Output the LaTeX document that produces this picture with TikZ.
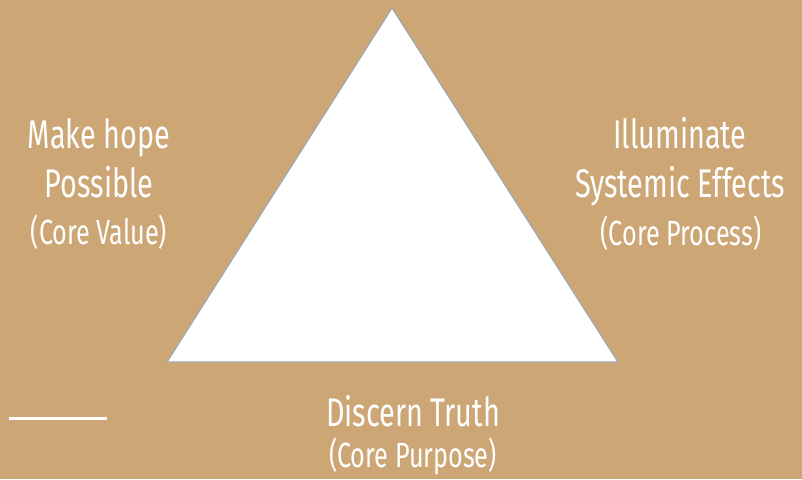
\documentclass[tikz,border=0pt]{standalone}
\usepackage{fontspec}
\setmainfont{Fira Sans}[FakeStretch=0.72]
\definecolor{bg}{RGB}{205,166,118}
\definecolor{edge}{RGB}{160,168,176}
\tikzset{
  big/.style={text=white, inner sep=0pt, anchor=base, font=\fontsize{40}{44}\selectfont},
  small/.style={text=white, inner sep=0pt, anchor=base, font=\fontsize{35}{38}\selectfont},
}
\begin{document}
\begin{tikzpicture}[x=1pt,y=-1pt]
\fill[bg] (0,0) rectangle (802,479);
\useasboundingbox (0,0) rectangle (802,479);
\coordinate (A) at (392,8);
\coordinate (B) at (167,362);
\coordinate (C) at (618,362);
\filldraw[fill=white, draw=edge, line width=1.2pt, line join=miter] (A) -- (B) -- (C) -- cycle;
\coordinate (L1) at (9,418.5);
\coordinate (L2) at (107,418.5);
\draw[white, line width=3pt] (L1) -- (L2);
\node[big] (l1) at (99,148) {Make hope};
\node[big] (l2) at (99,197) {Possible};
\node[small] (l3) at (99,244) {(Core Value)};
\node[big] (r1) at (680,148) {Illuminate};
\node[big] (r2) at (680,197) {Systemic Effects};
\node[small] (r3) at (681,245) {(Core Process)};
\node[big] (b1) at (413,426) {Discern Truth};
\node[small] (b2) at (413,467) {(Core Purpose)};
\end{tikzpicture}
\end{document}
